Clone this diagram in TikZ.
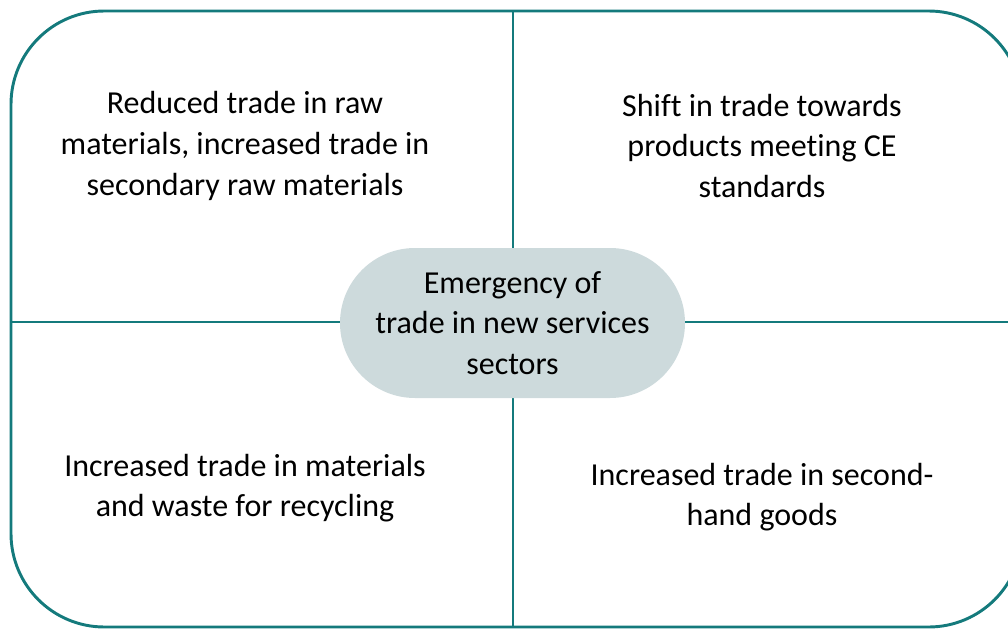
\documentclass[tikz,border=0pt]{standalone}
\usepackage{fontspec}
\setmainfont[Ligatures=NoCommon]{Carlito}
\usetikzlibrary{shapes.misc}
\definecolor{frameteal}{RGB}{20,122,124}
\definecolor{pillfill}{RGB}{205,218,220}
\tikzset{
  frameline/.style={draw=frameteal, line width=2.2pt},
  quadtext/.style={align=center, font=\fontsize{24}{30.5}\selectfont, text=black, inner sep=0pt},
  pill/.style={rounded rectangle, fill=pillfill, draw=none, inner sep=0pt, align=center, font=\fontsize{24}{30.5}\selectfont}
}
\begin{document}
\begin{tikzpicture}[x=0.75pt, y=-0.75pt]
  \useasboundingbox (0,0) rectangle (1008,629);
  \begin{scope}
    \clip (0,0) rectangle (1008,629);
    % outer frame and the two dividing lines
    \draw[frameline, rounded corners=70pt] (11,11) rectangle (1022,627);
    \draw[frameline] (513,11) -- (513,627);
    \draw[frameline] (11,322) -- (1022,322);
  \end{scope}
  % centre pill
  \node[pill, minimum width=258.75pt, minimum height=112.5pt] (hub) at (512.5,323)
    {Emergency of\\trade in new services\\sectors};
  % quadrant labels
  \node[quadtext] (tl) at (245,146) {Reduced trade in raw\\materials, increased trade in\\secondary raw materials};
  \node[quadtext] (tr) at (762,146) {Shift in trade towards\\products meeting CE\\standards};
  \node[quadtext] (bl) at (245,488) {Increased trade in materials\\and waste for recycling};
  \node[quadtext] (br) at (762,497) {Increased trade in second-\\hand goods};
\end{tikzpicture}
\end{document}
